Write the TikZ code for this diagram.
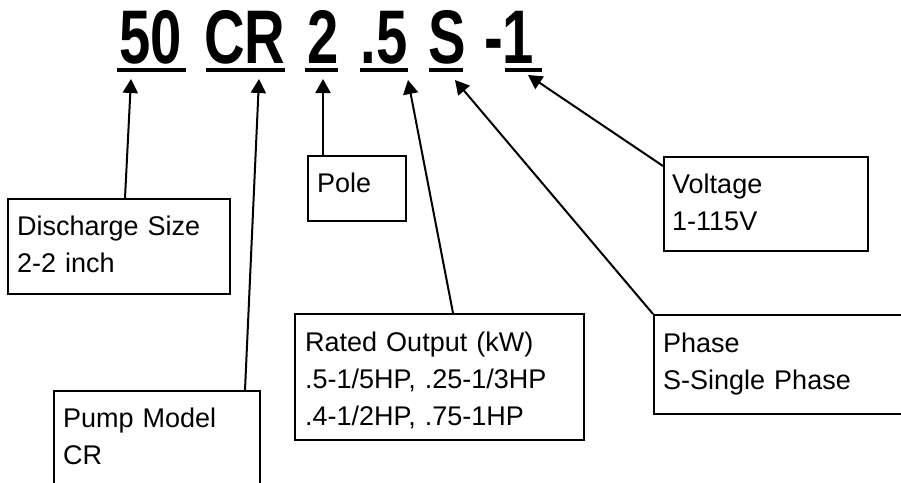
\documentclass[tikz,border=0pt]{standalone}
\usepackage{fontspec}
\setmainfont{Liberation Sans}
\usepackage{graphicx}
\usetikzlibrary{arrows.meta,calc}
\begin{document}
\begin{tikzpicture}[x=1pt,y=-1pt,
  box/.style={draw, line width=1.5pt, rectangle, inner sep=0pt, anchor=north west},
  lbl/.style={anchor=base west, inner sep=0pt, align=left, text width=300pt, font=\fontsize{27}{37}\selectfont},
  code/.style={anchor=base, inner sep=0pt, font=\fontsize{76}{76}\selectfont\bfseries},
  uline/.style={line width=3.5pt},
  arr/.style={line width=2pt, -{Triangle[width=15pt,length=14pt]}},
]
\useasboundingbox (0,0) rectangle (901,482);
\clip (0,0) rectangle (901,482);

% code tokens
\node[code] (c1) at (151,63) {\scalebox{0.74}[1]{50}};
\node[code] (c2) at (245,63) {\scalebox{0.74}[1]{CR}};
\node[code] (c3) at (323,63) {\scalebox{0.74}[1]{2}};
\node[code] (c4) at (384,63) {\scalebox{0.74}[1]{.5}};
\node[code] (c5) at (447,63) {\scalebox{0.74}[1]{S}};
\node[code] (c6) at (509,63) {\scalebox{0.74}[1]{-1}};

% underlines
\draw[uline] (117,70) -- (186,70);
\draw[uline] (206,70) -- (285,70);
\draw[uline] (305,70) -- (338,70);
\draw[uline] (360,70) -- (408,70);
\draw[uline] (429,70) -- (463,70);
\draw[uline] (505,70) -- (542,70);

% boxes
\node[box, minimum width=222pt, minimum height=95pt] (dbox) at (7,198) {};
\node[box, minimum width=98pt, minimum height=65pt] (pbox) at (307,155) {};
\node[box, minimum width=289pt, minimum height=126pt] (rbox) at (294,313) {};
\node[box, minimum width=206pt, minimum height=130pt] (mbox) at (53,390) {};
\node[box, minimum width=204pt, minimum height=94pt] (vbox) at (663,156) {};
\node[box, minimum width=280pt, minimum height=99pt] (sbox) at (653,314) {};

% labels
\node[lbl] (dtxt) at ($(dbox.north west)+(10,37)$) {Discharge Size\\2-2 inch};
\node[lbl] (ptxt) at ($(pbox.north west)+(10,37)$) {Pole};
\node[lbl] (rtxt) at ($(rbox.north west)+(11,38)$) {Rated Output (kW)\\.5-1/5HP, .25-1/3HP\\.4-1/2HP, .75-1HP};
\node[lbl] (mtxt) at ($(mbox.north west)+(10,37)$) {Pump Model\\CR};
\node[lbl] (vtxt) at ($(vbox.north west)+(9,37)$) {Voltage\\1-115V};
\node[lbl] (stxt) at ($(sbox.north west)+(10,38)$) {Phase\\S-Single Phase};

% arrow tips and connector ends
\coordinate (t1) at (131,79);
\coordinate (t2) at (259,79);
\coordinate (t3) at (323,79);
\coordinate (t4) at (408,80);
\coordinate (t5) at (455,80);
\coordinate (t6) at (528,75);
\coordinate (a1) at ($(dbox.north west)+(118,0)$);
\coordinate (a2) at ($(mbox.north west)+(192,0)$);
\coordinate (a3) at ($(pbox.north west)+(16,0)$);
\coordinate (a4) at ($(rbox.north west)+(159,0)$);
\coordinate (a5) at (sbox.north west);
\coordinate (a6) at ($(vbox.north west)+(0,10)$);

\draw[arr] (a1) -- (t1);
\draw[arr] (a2) -- (t2);
\draw[arr] (a3) -- (t3);
\draw[arr] (a4) -- (t4);
\draw[arr] (a5) -- (t5);
\draw[arr] (a6) -- (t6);
\end{tikzpicture}
\end{document}
